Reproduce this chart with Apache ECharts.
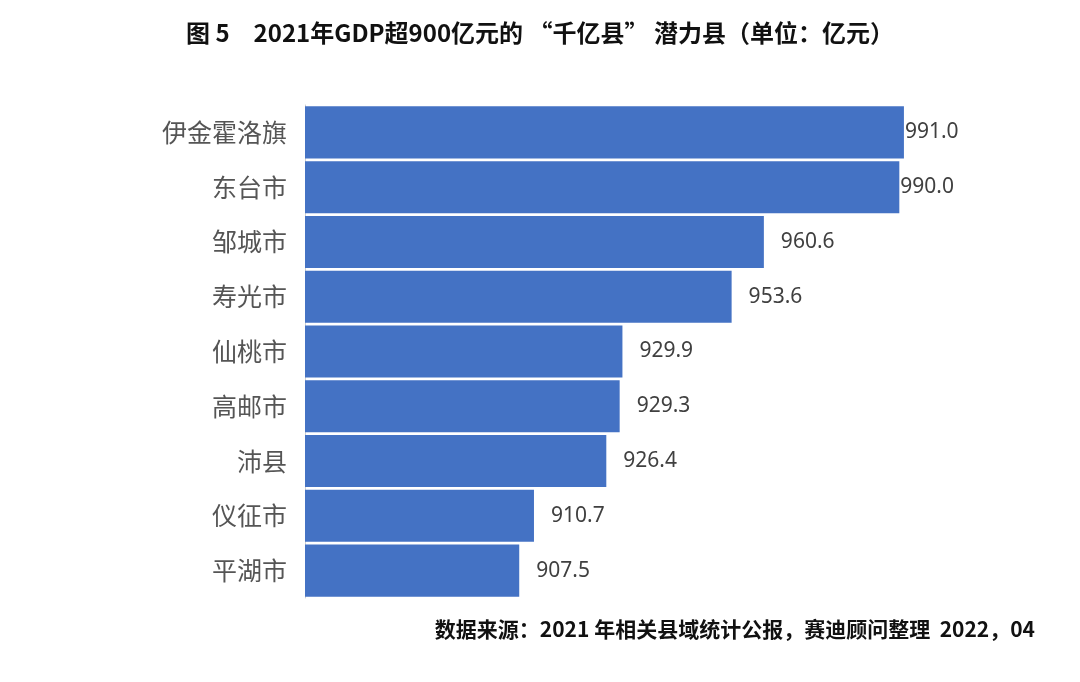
<!DOCTYPE html>
<html><head><meta charset="utf-8">
<script src="https://cdn.jsdelivr.net/npm/echarts@6/dist/echarts.min.js"></script>
<style>html,body{margin:0;padding:0;background:#fff}#c{width:1080px;height:682px}</style>
</head><body><div id="c"></div>
<script>
const categories = ['伊金霍洛旗','东台市','邹城市','寿光市','仙桃市','高邮市','沛县','仪征市','平湖市'];
const values = [991.0, 990.0, 960.6, 953.6, 929.9, 929.3, 926.4, 910.7, 907.5];
const chart = echarts.init(document.getElementById('c'));
chart.setOption({
  backgroundColor:'#fff',
  title:[{text:'图 5　2021年GDP超900亿元的 “千亿县” 潜力县（单位：亿元）',left:'center',top:16,
    textStyle:{fontFamily:'Noto Sans CJK SC',fontSize:24,fontWeight:'bold',color:'#111'}},
    {text:'数据来源：2021 年相关县域统计公报，赛迪顾问整理  2022，04',right:40,top:614,
    textStyle:{fontFamily:'Noto Sans CJK SC',fontSize:21,fontWeight:'bold',color:'#111'}}],
  grid:{left:305,top:105,width:645,height:493},
  xAxis:{type:'value',min:861,max:1001,show:false},
  yAxis:{type:'category',data:categories,inverse:true,axisTick:{show:false},
    axisLine:{show:true,lineStyle:{color:'#d0d0d0'}},
    axisLabel:{fontFamily:'Noto Sans CJK SC',fontSize:25,color:'#555',margin:18}},
  series:[{type:'bar',barCategoryGap:'5%',itemStyle:{color:'#4472C4'},
    data:values.map((v,i)=>({value:v,label:{distance:i<2?1:17}})),
    label:{show:true,position:'right',formatter:p=>p.value.toFixed(1),
      fontFamily:'Noto Sans',fontSize:21,color:'#404040'}}]
});
</script></body></html>
